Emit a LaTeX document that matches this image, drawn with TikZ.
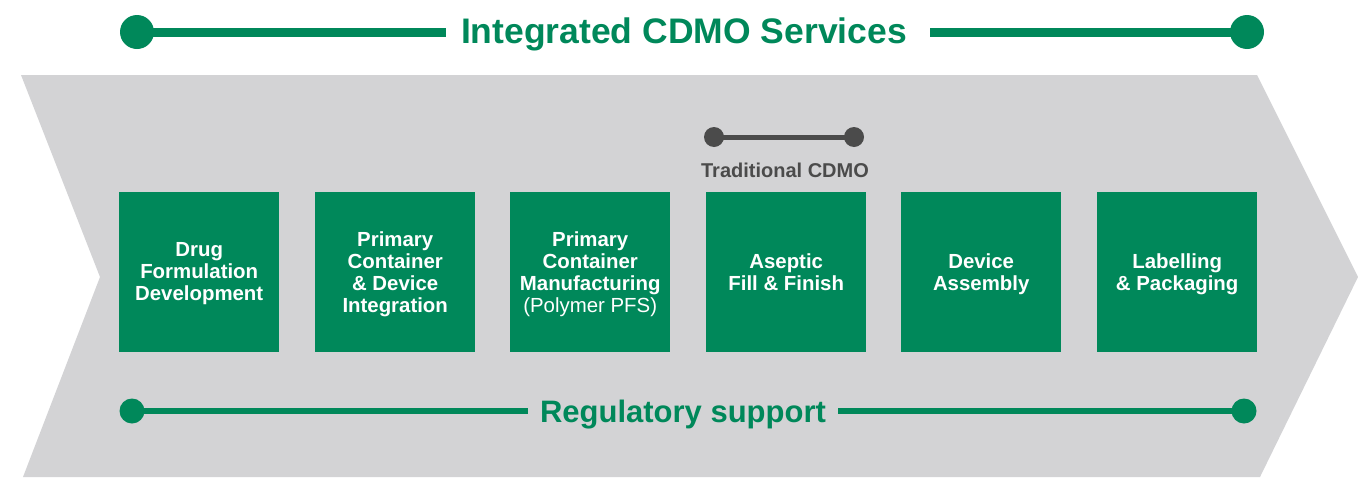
\documentclass[tikz,border=0pt]{standalone}
\usepackage{fontspec}
\setmainfont{Liberation Sans}
\definecolor{cgreen}{HTML}{00885A}
\definecolor{cgray}{HTML}{D3D3D5}
\definecolor{cdark}{HTML}{4B4B4B}
\tikzset{
  stepbox/.style={fill=cgreen, minimum width=160pt, minimum height=160pt, inner sep=0pt,
    text=white, font=\bfseries\fontsize{20.4}{22}\selectfont, align=center, anchor=north west,
    text depth=1pt},
  bigdot/.style={circle, fill=cgreen, inner sep=0pt, minimum size=#1},
  greydot/.style={circle, fill=cdark, inner sep=0pt, minimum size=20pt},
  headline/.style={text=cgreen, font=\bfseries\fontsize{35.5}{38}\selectfont, inner xsep=15pt, anchor=base},
  subline/.style={text=cgreen, font=\bfseries\fontsize{31}{34}\selectfont, inner xsep=12pt, anchor=base},
}
\begin{document}
\begin{tikzpicture}[x=1pt,y=-1pt]
\useasboundingbox (0,0) rectangle (1358,477);
% chevron
\fill[cgray] (21,75) -- (1257,75) -- (1358,277) -- (1260,477) -- (23,477) -- (100,277) -- cycle;
% top
\node[bigdot=34pt] (tl) at (137,32) {};
\node[bigdot=34pt] (tr) at (1247,32) {};
\node[headline] (title) at (684,43) {Integrated CDMO Services};
\draw[cgreen, line width=9pt] (tl.center) -- (tl.center -| title.west);
\draw[cgreen, line width=9pt] ([xshift=8pt]tr.center -| title.east) -- (tr.center);
% traditional CDMO
\node[greydot] (gl) at (714,137) {};
\node[greydot] (gr) at (854,137) {};
\draw[cdark, line width=5pt] (gl.center) -- (gr.center);
\node[text=cdark, font=\bfseries\fontsize{20}{22}\selectfont, anchor=base] (trad) at (785,177) {Traditional CDMO};
% boxes
\node[stepbox] (b1) at (119,192) {Drug\\Formulation\\Development};
\node[stepbox] (b2) at (315,192) {Primary\\Container\\\& Device\\Integration};
\node[stepbox] (b3) at (510,192) {Primary\\Container\\Manufacturing\\{\mdseries (Polymer PFS)}};
\node[stepbox] (b4) at (706,192) {Aseptic\\Fill \& Finish};
\node[stepbox] (b5) at (901,192) {Device\\Assembly};
\node[stepbox] (b6) at (1097,192) {Labelling\\\& Packaging};
% bottom
\node[bigdot=25pt] (bl) at (132,411) {};
\node[bigdot=25pt] (br) at (1244,411) {};
\node[subline] (reg) at (683,422) {Regulatory support};
\draw[cgreen, line width=6pt] (bl.center) -- (bl.center -| reg.west);
\draw[cgreen, line width=6pt] (br.center -| reg.east) -- (br.center);
\end{tikzpicture}
\end{document}
